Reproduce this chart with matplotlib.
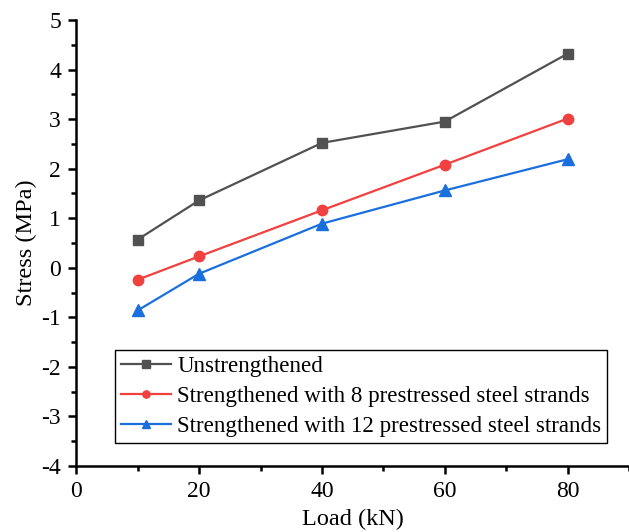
import matplotlib
matplotlib.use("Agg")
import matplotlib.pyplot as plt
from matplotlib.ticker import MultipleLocator

# Load levels (kN) and measured stress (MPa)
load = [10, 20, 40, 60, 80]
unstrengthened = [0.57, 1.36, 2.52, 2.95, 4.32]
strands_8 = [-0.24, 0.23, 1.16, 2.08, 3.01]
strands_12 = [-0.86, -0.12, 0.89, 1.56, 2.19]

labels = [
    "Unstrengthened",
    "Strengthened with 8 prestressed steel strands",
    "Strengthened with 12 prestressed steel strands",
]
colors = ["#515151", "#F14040", "#1A6FDF"]
markers = ["s", "o", "^"]

plt.rcParams["font.family"] = ["Liberation Serif", "DejaVu Serif"]
plt.rcParams["axes.unicode_minus"] = False

fig = plt.figure(figsize=(6.29, 5.32), dpi=100)
ax = fig.add_axes([0.1213, 0.1241, 0.8787, 0.8383])

for y, lab, c, m in zip([unstrengthened, strands_8, strands_12], labels, colors, markers):
    ax.plot(load, y, color=c, marker=m, markersize=7.5 if m != "^" else 8.5,
            linewidth=1.6, label=lab)

ax.set_xlim(0, 90)
ax.set_ylim(-4, 5)
ax.xaxis.set_major_locator(MultipleLocator(20))
ax.xaxis.set_minor_locator(MultipleLocator(10))
ax.yaxis.set_major_locator(MultipleLocator(1))
ax.yaxis.set_minor_locator(MultipleLocator(0.5))

for side in ("top", "right"):
    ax.spines[side].set_visible(False)
for side in ("left", "bottom"):
    ax.spines[side].set_linewidth(1.8)

ax.tick_params(which="major", direction="out", length=6, width=1.8, labelsize=17, pad=5)
ax.tick_params(which="minor", direction="out", length=3.5, width=1.8)

ax.set_xlabel("Load (kN)", fontsize=17.5, labelpad=5)
ax.set_ylabel("Stress (MPa)", fontsize=17.5, labelpad=3)

leg = ax.legend(loc="lower left", bbox_to_anchor=(0.070, 0.0516), borderaxespad=0,
                fontsize=16.6, frameon=True, fancybox=False, edgecolor="black",
                framealpha=1, handlelength=2.2, handletextpad=0.25,
                labelspacing=0.38, borderpad=0.25, markerscale=0.7)
leg.get_frame().set_linewidth(1.0)

fig.savefig("out.png", dpi=100)
